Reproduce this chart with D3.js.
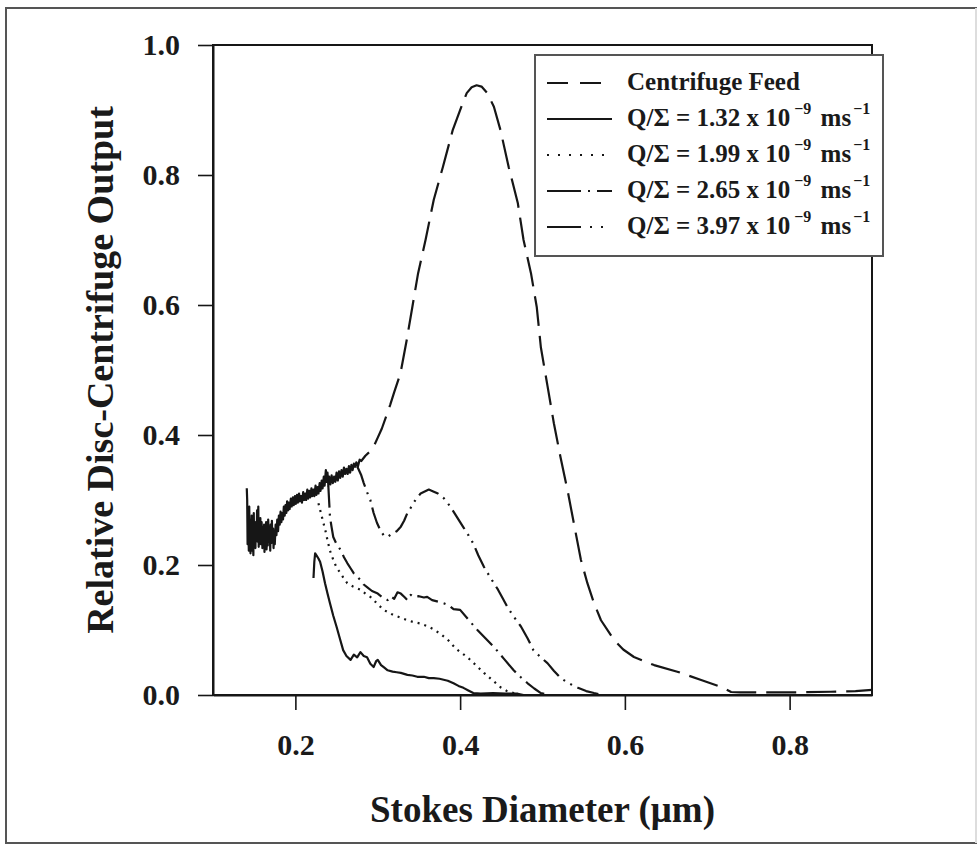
<!DOCTYPE html>
<html>
<head>
<meta charset="utf-8">
<script src="https://cdn.jsdelivr.net/npm/d3@7"></script>
<style>
  html, body { margin: 0; padding: 0; background: #fff; }
  svg { display: block; }
  text { font-family: "Liberation Serif", "Times New Roman", serif; font-weight: bold; fill: #1a1a1a; }
</style>
</head>
<body>
<svg id="chart" width="979" height="850"></svg>
<script>
// Stokes diameter (µm) vs relative disc-centrifuge output, one array per run
const feed = [
  [0.1410,0.318],[0.1415,0.300],[0.1420,0.232],[0.1425,0.285],[0.1430,0.250],[0.1435,0.222],
  [0.1440,0.290],[0.1445,0.236],[0.1450,0.262],[0.1455,0.218],[0.1460,0.270],[0.1465,0.228],
  [0.1470,0.276],[0.1475,0.222],[0.1480,0.258],[0.1490,0.215],[0.1495,0.280],[0.1500,0.232],
  [0.1510,0.266],[0.1515,0.226],[0.1520,0.258],[0.1530,0.240],[0.1535,0.284],[0.1540,0.236],
  [0.1550,0.290],[0.1555,0.228],[0.1560,0.262],[0.1570,0.238],[0.1575,0.272],[0.1580,0.232],
  [0.1590,0.266],[0.1600,0.226],[0.1605,0.258],[0.1610,0.236],[0.1620,0.262],[0.1625,0.220],
  [0.1630,0.250],[0.1640,0.232],[0.1645,0.266],[0.1650,0.224],[0.1660,0.254],[0.1665,0.230],
  [0.1670,0.270],[0.1680,0.236],[0.1690,0.252],[0.1695,0.222],[0.1700,0.262],[0.1710,0.234],
  [0.1715,0.268],[0.1720,0.240],[0.1730,0.256],[0.1735,0.226],[0.1740,0.250],[0.1750,0.232],
  [0.1760,0.262],[0.1770,0.246],[0.1780,0.270],[0.1790,0.252],[0.1800,0.276],[0.1810,0.262],
  [0.1820,0.282],[0.1830,0.266],[0.1840,0.280],[0.1850,0.270],[0.1860,0.290],[0.1870,0.276],
  [0.1880,0.292],[0.1890,0.280],[0.1900,0.298],[0.1910,0.284],[0.1920,0.296],[0.1930,0.286],
  [0.1945,0.302],[0.1955,0.290],[0.1970,0.304],[0.1980,0.292],[0.1995,0.306],[0.2005,0.294],
  [0.2020,0.308],[0.2030,0.296],[0.2045,0.310],[0.2055,0.298],[0.2070,0.306],[0.2080,0.296],
  [0.2095,0.312],[0.2105,0.300],[0.2120,0.310],[0.2130,0.300],[0.2145,0.316],[0.2155,0.302],
  [0.2170,0.314],[0.2180,0.304],[0.2195,0.318],[0.2205,0.306],[0.2220,0.316],[0.2230,0.306],
  [0.2245,0.322],[0.2255,0.308],[0.2270,0.320],[0.2280,0.310],[0.2295,0.326],[0.2305,0.314],
  [0.2320,0.330],[0.2330,0.318],[0.2345,0.336],[0.2355,0.322],[0.2370,0.346],[0.2380,0.328],
  [0.2390,0.342],[0.2400,0.322],[0.2410,0.336],[0.2425,0.324],[0.2440,0.338],[0.2455,0.326],
  [0.2470,0.336],[0.2485,0.328],[0.2500,0.342],[0.2515,0.330],[0.2530,0.344],[0.2545,0.334],
  [0.2560,0.346],[0.2575,0.336],[0.2590,0.350],[0.2605,0.340],[0.2620,0.348],[0.2635,0.340],
  [0.2650,0.352],[0.2665,0.342],[0.2680,0.354],[0.2695,0.346],[0.2710,0.356],[0.2725,0.350],
  [0.2740,0.358],[0.2760,0.352],[0.2780,0.362],[0.2800,0.360],
  [0.285,0.368],[0.290,0.374],[0.295,0.382],
  [0.300,0.396],[0.305,0.410],[0.310,0.428],[0.315,0.446],[0.320,0.466],[0.3276,0.495],
  [0.335,0.545],[0.342,0.597],[0.349,0.649],[0.358,0.700],[0.368,0.762],[0.379,0.812],
  [0.391,0.869],[0.403,0.910],[0.408,0.926],[0.414,0.935],[0.420,0.938],[0.426,0.936],
  [0.433,0.926],[0.441,0.905],[0.449,0.869],[0.459,0.812],[0.470,0.757],[0.477,0.700],
  [0.486,0.649],[0.493,0.597],[0.498,0.535],[0.506,0.476],[0.5138,0.418],[0.522,0.365],
  [0.531,0.311],[0.539,0.258],[0.5466,0.208],[0.5545,0.172],[0.5625,0.1415],[0.571,0.115],
  [0.5868,0.0846],[0.598,0.070],[0.611,0.0585],[0.6355,0.046],[0.6647,0.0354],[0.6926,0.023],
  [0.717,0.0123],[0.729,0.0046],[0.74,0.004],[0.76,0.004],[0.80,0.004],[0.85,0.005],
  [0.88,0.006],[0.90,0.008]
];

const run132 = [
  [0.222,0.180],[0.223,0.205],[0.224,0.218],[0.226,0.214],[0.228,0.210],[0.230,0.205],
  [0.233,0.190],[0.236,0.172],[0.239,0.156],[0.242,0.141],[0.246,0.122],[0.250,0.105],
  [0.254,0.087],[0.258,0.069],[0.262,0.060],[0.267,0.054],[0.271,0.062],[0.275,0.058],
  [0.279,0.066],[0.283,0.060],[0.287,0.058],[0.291,0.048],[0.295,0.043],[0.298,0.052],
  [0.300,0.054],[0.304,0.046],[0.308,0.042],[0.312,0.038],[0.318,0.036],[0.323,0.035],
  [0.328,0.034],[0.336,0.031],[0.342,0.030],[0.348,0.028],[0.356,0.028],[0.362,0.026],
  [0.368,0.026],[0.375,0.025],[0.385,0.022],[0.392,0.018],[0.398,0.014],[0.404,0.011],
  [0.410,0.007],[0.416,0.003],[0.425,0.002],[0.440,0.003],[0.455,0.002],[0.470,0.002],
  [0.477,0.000]
];

const run199 = [
  [0.228,0.295],[0.231,0.280],[0.234,0.265],[0.237,0.250],[0.239,0.238],[0.242,0.222],
  [0.246,0.208],[0.250,0.196],[0.255,0.187],[0.259,0.179],[0.263,0.172],[0.270,0.167],
  [0.279,0.162],[0.285,0.156],[0.291,0.151],[0.299,0.141],[0.307,0.131],[0.313,0.127],
  [0.319,0.123],[0.328,0.119],[0.336,0.115],[0.344,0.112],[0.352,0.110],[0.360,0.106],
  [0.368,0.101],[0.377,0.093],[0.385,0.085],[0.395,0.071],[0.409,0.058],[0.419,0.046],
  [0.429,0.034],[0.439,0.023],[0.449,0.012],[0.457,0.006],[0.465,0.003],[0.470,0.001]
];

const run265 = [
  [0.240,0.322],[0.242,0.274],[0.244,0.258],[0.246,0.243],[0.250,0.232],[0.255,0.223],
  [0.259,0.212],[0.263,0.203],[0.267,0.195],[0.271,0.187],[0.275,0.182],[0.279,0.177],
  [0.283,0.170],[0.287,0.166],[0.293,0.160],[0.300,0.156],[0.306,0.150],[0.312,0.146],
  [0.316,0.152],[0.320,0.148],[0.324,0.158],[0.328,0.156],[0.333,0.150],[0.336,0.146],
  [0.340,0.154],[0.343,0.151],[0.350,0.152],[0.356,0.150],[0.360,0.151],[0.366,0.146],
  [0.372,0.144],[0.380,0.141],[0.386,0.138],[0.392,0.132],[0.400,0.131],[0.410,0.116],
  [0.421,0.100],[0.431,0.087],[0.441,0.074],[0.453,0.056],[0.465,0.038],[0.474,0.027],
  [0.482,0.018],[0.490,0.010],[0.498,0.003],[0.505,0.001]
];

const run397 = [
  [0.275,0.352],[0.280,0.338],[0.283,0.326],[0.287,0.312],[0.291,0.300],[0.295,0.280],
  [0.299,0.265],[0.303,0.254],[0.307,0.246],[0.312,0.243],[0.316,0.247],[0.319,0.249],
  [0.323,0.252],[0.328,0.259],[0.332,0.268],[0.336,0.280],[0.340,0.288],[0.343,0.295],
  [0.347,0.302],[0.352,0.310],[0.357,0.313],[0.362,0.316],[0.366,0.314],[0.373,0.310],
  [0.380,0.303],[0.388,0.290],[0.396,0.274],[0.404,0.258],[0.410,0.246],[0.416,0.233],
  [0.422,0.215],[0.429,0.197],[0.437,0.180],[0.446,0.162],[0.452,0.148],[0.458,0.134],
  [0.466,0.119],[0.474,0.105],[0.482,0.087],[0.489,0.069],[0.497,0.059],[0.506,0.049],
  [0.514,0.037],[0.522,0.026],[0.532,0.018],[0.543,0.011],[0.553,0.006],[0.5625,0.003],
  [0.570,0.001]
];

const legendRates = ["1.32", "1.99", "2.65", "3.97"];
const xTicks = [0.2, 0.4, 0.6, 0.8];
const yTicks = [0.0, 0.2, 0.4, 0.6, 0.8, 1.0];

const series = [
  { name: "feed", data: feed, dash: "30,10", legendDash: "21,12" },
  { name: "r132", data: run132, dash: null, legendDash: null, rate: legendRates[0] },
  { name: "r199", data: run199, dash: "2,5", legendDash: "2,9", rate: legendRates[1] },
  { name: "r265", data: run265, dash: "22,6,2,6", legendDash: "34,7,2,7,12,0", rate: legendRates[2] },
  { name: "r397", data: run397, dash: "22,6,2,6,2,6", legendDash: "34,9,2,9,2,40", rate: legendRates[3] }
];

const ink = "#161616";
const svg = d3.select("#chart");

// outer frame
const frame = svg.append("g").attr("fill", "none").attr("stroke-width", 2);
frame.append("path").attr("d", "M977,8 H6 V843 H977").attr("stroke", "#555");
frame.append("path").attr("d", "M976,8 V843").attr("stroke", "#ddd");

const x = d3.scaleLinear().domain([0.1, 0.9]).range([213, 872]);
const y = d3.scaleLinear().domain([0, 1]).range([695, 45]);

// plot box
svg.append("rect")
  .attr("x", x(0.1)).attr("y", y(1)).attr("width", x(0.9) - x(0.1)).attr("height", y(0) - y(1))
  .attr("fill", "none").attr("stroke", ink).attr("stroke-width", 2);

const xAxis = svg.append("g")
  .attr("transform", `translate(0,${y(0)})`)
  .call(d3.axisBottom(x).tickValues(xTicks).tickFormat(d3.format(".1f"))
        .tickSize(15).tickSizeOuter(0).tickPadding(24));
const yAxis = svg.append("g")
  .attr("transform", `translate(${x(0.1)},0)`)
  .call(d3.axisLeft(y).tickValues(yTicks).tickFormat(d3.format(".1f"))
        .tickSize(15).tickSizeOuter(0).tickPadding(18));

[xAxis, yAxis].forEach(g => {
  g.select(".domain").attr("stroke", ink).attr("stroke-width", 2);
  g.selectAll(".tick line").attr("stroke", ink).attr("stroke-width", 1.6);
  g.selectAll(".tick text")
    .attr("fill", ink)
    .style("font-family", '"Liberation Serif", "Times New Roman", serif')
    .style("font-weight", "bold")
    .style("font-size", "30px");
});

// axis titles
svg.append("text")
  .attr("x", (x(0.1) + x(0.9)) / 2).attr("y", 822)
  .attr("text-anchor", "middle").style("font-size", "37px")
  .text("Stokes Diameter (\u03bcm)");

svg.append("text")
  .attr("transform", `translate(113,${(y(0) + y(1)) / 2}) rotate(-90)`)
  .attr("text-anchor", "middle").style("font-size", "38px")
  .text("Relative Disc-Centrifuge Output");

// curves; the dense overlapping stretch at small diameters is drawn unbroken
const line = d3.line().x(d => x(d[0])).y(d => y(d[1]));
const plot = svg.append("g")
  .attr("fill", "none").attr("stroke", ink).attr("stroke-width", 2.2)
  .attr("stroke-linejoin", "round");
series.forEach(s => {
  if (s.name === "feed") {
    plot.append("path").attr("d", line(s.data.filter(d => d[0] <= 0.2725)));
    plot.append("path").attr("d", line(s.data.filter(d => d[0] >= 0.2725)))
      .attr("stroke-dasharray", s.dash);
  } else {
    plot.append("path").attr("d", line(s.data)).attr("stroke-dasharray", s.dash);
  }
});

// legend
const lg = svg.append("g");
lg.append("rect")
  .attr("x", 535).attr("y", 55).attr("width", 348).attr("height", 201)
  .attr("fill", "#fff").attr("stroke", "#555").attr("stroke-width", 2);

series.forEach((s, i) => {
  const base = 90 + i * 36;
  lg.append("line")
    .attr("x1", 547).attr("x2", 612)
    .attr("y1", base - 7).attr("y2", base - 7)
    .attr("stroke", ink).attr("stroke-width", 2)
    .attr("stroke-dasharray", s.legendDash);
  const t = lg.append("text").attr("x", 627).attr("y", base).style("font-size", "25px");
  if (s.name === "feed") {
    t.text("Centrifuge Feed");
  } else {
    t.append("tspan").text(`Q/\u03a3 = ${s.rate} x 10`);
    t.append("tspan").attr("dy", -12).attr("dx", 4).style("font-size", "16px").text("\u22129");
    t.append("tspan").attr("dy", 12).attr("dx", 3).text(" ms");
    t.append("tspan").attr("dy", -12).attr("dx", 2).style("font-size", "16px").text("\u22121");
  }
});
</script>
</body>
</html>
